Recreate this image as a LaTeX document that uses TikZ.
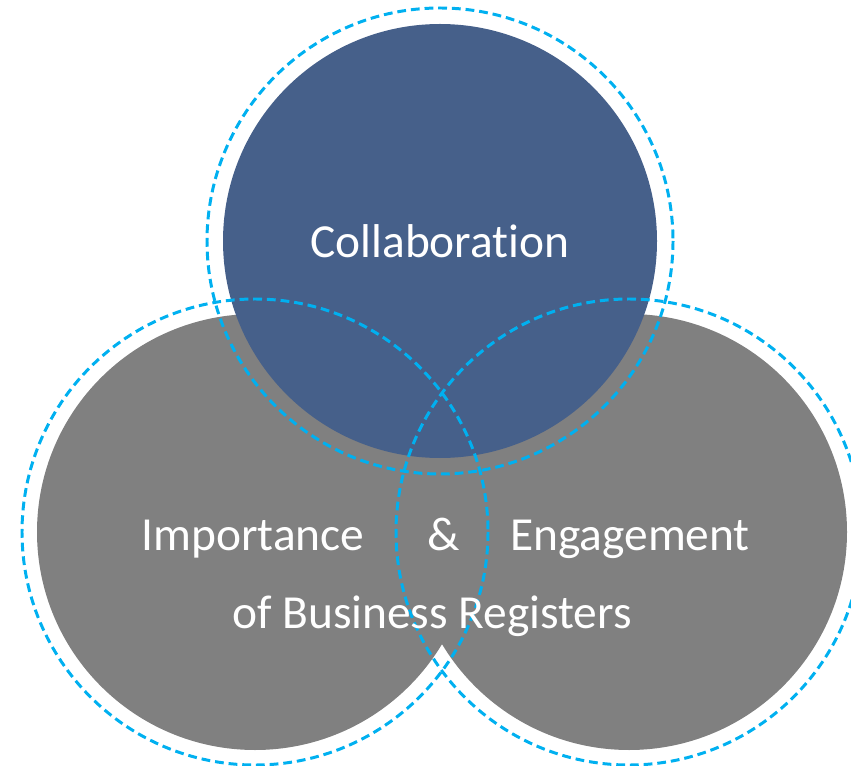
\documentclass[tikz,border=0pt]{standalone}
\usepackage{fontspec}
\setmainfont{Carlito}[Ligatures = NoCommon]
\definecolor{color1}{RGB}{70, 96, 138}
\definecolor{color2}{RGB}{128, 128, 128}
\definecolor{color3}{RGB}{0, 176, 240}

\begin{document}
\begin{tikzpicture}[x = 0.02cm, y = -0.02cm,
  ring/.style = {color3, line width = 1.7pt, dash pattern = on 5pt off 2.8pt},
  label/.style = {text = white, anchor = base, inner sep = 0pt,
    font = \fontsize{27}{32}\selectfont}]

\useasboundingbox (0, 0) rectangle (851, 766);

\coordinate (left) at (255, 532);
\coordinate (right) at (629, 532);
\coordinate (top) at (440, 241);

\fill [color2] (left) circle (218);
\fill [color2] (right) circle (218);
\fill [color1] (top) circle (217);

\draw [ring] (left) circle (233);
\draw [ring] (right) circle (233);
\draw [ring] (top) circle (233);

\node [label] (collab) at (440, 258) {Collaboration};
\node [label] (import) at (253, 550) {Importance};
\node [label] (amp) at (444, 550) {\&};
\node [label] (engage) at (630, 550) {Engagement};
\node [label] (busreg) at (432, 628) {of Business Registers};

\end{tikzpicture}
\end{document}
